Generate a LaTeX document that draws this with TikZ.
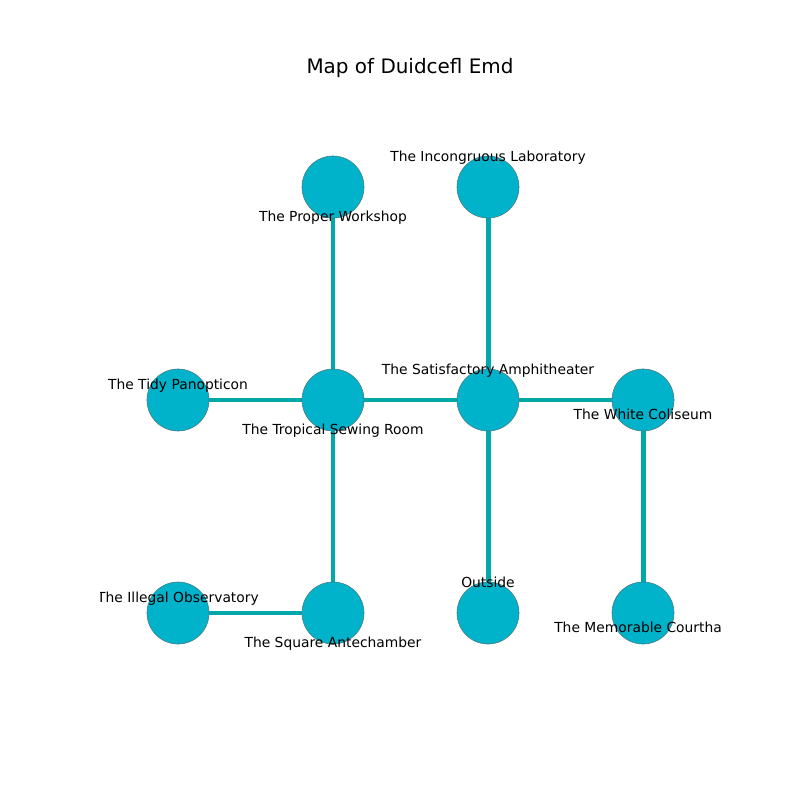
\documentclass[tikz,border=0pt]{standalone}
\usepackage{fontspec}
\setmainfont{DejaVu Sans}
\definecolor{nodefill}{HTML}{00B2CA}
\definecolor{edgecol}{HTML}{00A8AA}
\definecolor{nodeedge}{HTML}{4A7A80}
\tikzset{
  room/.style={circle, fill=nodefill, draw=nodeedge, line width=0.4pt, minimum size=0.62in, inner sep=0pt},
  link/.style={draw=edgecol, line width=3.6pt},
  lbl/.style={inner sep=0pt, font=\fontsize{10pt}{12pt}\selectfont, text=black},
}
\begin{document}
\begin{tikzpicture}[x=0.01in, y=-0.01in]
\useasboundingbox (0,0) rectangle (800,800);
\fill[white] (0,0) rectangle (800,800);
\node[inner sep=0pt, font=\fontsize{14.4pt}{17pt}\selectfont] (title) at (410,68) {Map of Duidcefl Emd};
% node centres
\coordinate (cPW) at (333,187);
\coordinate (cIL) at (488,187);
\coordinate (cTP) at (178,400);
\coordinate (cTS) at (333,400);
\coordinate (cSA) at (488,400);
\coordinate (cWC) at (643,400);
\coordinate (cIO) at (178,613);
\coordinate (cSq) at (333,613);
\coordinate (cOu) at (488,613);
\coordinate (cMC) at (643,613);
% edges
\draw[link] (cPW) -- (cTS);
\draw[link] (cIL) -- (cSA);
\draw[link] (cTP) -- (cTS);
\draw[link] (cTS) -- (cSA);
\draw[link] (cSA) -- (cWC);
\draw[link] (cTS) -- (cSq);
\draw[link] (cSA) -- (cOu);
\draw[link] (cWC) -- (cMC);
\draw[link] (cIO) -- (cSq);
% nodes
\node[room] (PW) at (cPW) {};
\node[room] (IL) at (cIL) {};
\node[room] (TP) at (cTP) {};
\node[room] (TS) at (cTS) {};
\node[room] (SA) at (cSA) {};
\node[room] (WC) at (cWC) {};
\node[room] (IO) at (cIO) {};
\node[room] (Sq) at (cSq) {};
\node[room] (Ou) at (cOu) {};
\node[room] (MC) at (cMC) {};
% labels (clipped to the axes area)
\begin{scope}
\clip (100,96) rectangle (720,712);
\node[lbl] (lPW) at (333,218) {The Proper Workshop};
\node[lbl] (lIL) at (488,158) {The Incongruous Laboratory};
\node[lbl] (lTP) at (178,386) {The Tidy Panopticon};
\node[lbl] (lTS) at (333,431) {The Tropical Sewing Room};
\node[lbl] (lSA) at (488,371) {The Satisfactory Amphitheater};
\node[lbl] (lWC) at (643,414) {The White Coliseum};
\node[lbl] (lIO) at (178,599) {The Illegal Observatory};
\node[lbl] (lSq) at (333,644) {The Square Antechamber};
\node[lbl] (lOu) at (488,582) {Outside};
\node[lbl, anchor=west] (lMC) at (554,627) {The Memorable Courtha};
\end{scope}
\end{tikzpicture}
\end{document}
